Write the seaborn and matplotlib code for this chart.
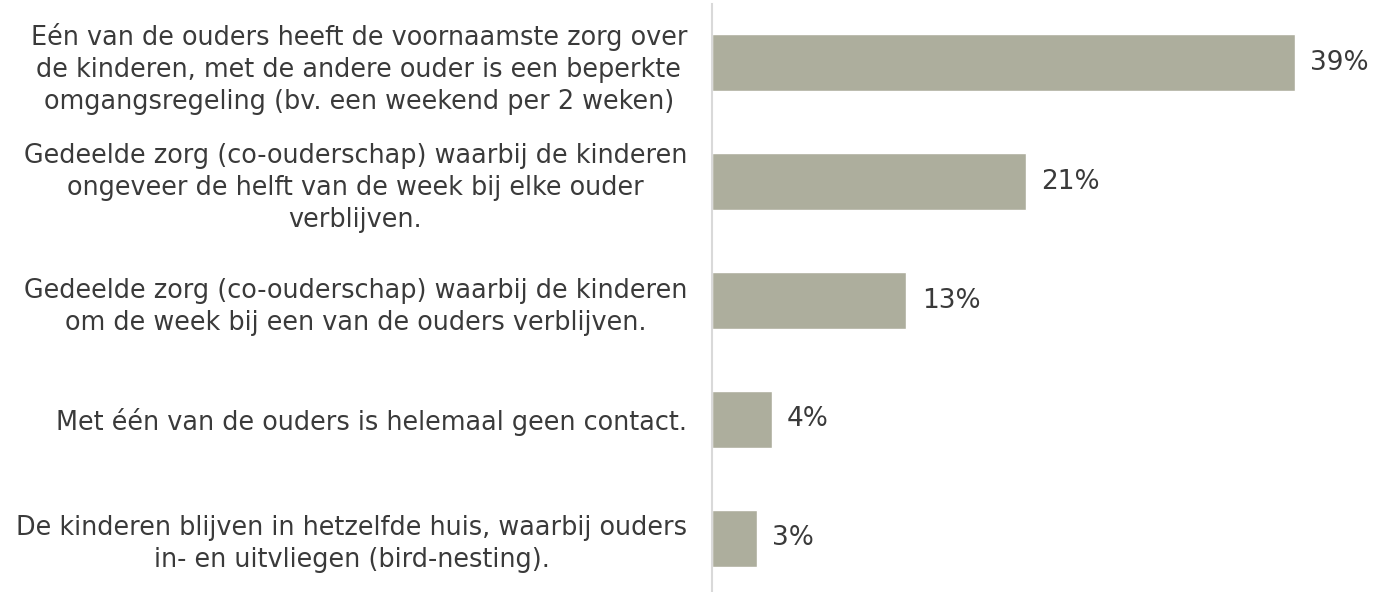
import matplotlib
matplotlib.use("Agg")
import matplotlib.pyplot as plt
import seaborn as sns
import pandas as pd

categories = [
    "Eén van de ouders heeft de voornaamste zorg over\nde kinderen, met de andere ouder is een beperkte\nomgangsregeling (bv. een weekend per 2 weken)",
    "Gedeelde zorg (co-ouderschap) waarbij de kinderen\nongeveer de helft van de week bij elke ouder\nverblijven.",
    "Gedeelde zorg (co-ouderschap) waarbij de kinderen\nom de week bij een van de ouders verblijven.",
    "Met één van de ouders is helemaal geen contact.",
    "De kinderen blijven in hetzelfde huis, waarbij ouders\nin- en uitvliegen (bird-nesting).",
]
values = [39, 21, 13, 4, 3]
value_labels = ["39%", "21%", "13%", "4%", "3%"]

sns.set_theme(style="white")
plt.rcParams["font.family"] = ["DejaVu Sans"]

df = pd.DataFrame({"cat": categories, "val": values})

W, H = 1378, 592
fig = plt.figure(figsize=(W / 100, H / 100), dpi=100)
left = 712 / W
top_px = 3.6
bottom_px = 597.4
ax = fig.add_axes([left, 1 - bottom_px / H, 1 - left, (bottom_px - top_px) / H])

sns.barplot(data=df, x="val", y="cat", orient="h", color="#ADAE9D",
            width=0.48, saturation=1, ax=ax)

ax.set_xlim(0, (W - 712) / 14.95)
ax.set_ylim(4.5, -0.5)
ax.set_xlabel("")
ax.set_ylabel("")
ax.set_xticks([])
for s in ["top", "right", "bottom"]:
    ax.spines[s].set_visible(False)
ax.spines["left"].set_color("#D9D9D9")
ax.spines["left"].set_linewidth(1.5)

ax.tick_params(axis="y", length=0, pad=18, labelsize=18.4, labelcolor="#3A3A3A")
for t in ax.get_yticklabels():
    t.set_multialignment("center")
    t.set_linespacing(1.3)

ax.bar_label(ax.containers[0], labels=value_labels, padding=11,
             fontsize=19, color="#3A3A3A")

fig.savefig("out.png", dpi=100)
